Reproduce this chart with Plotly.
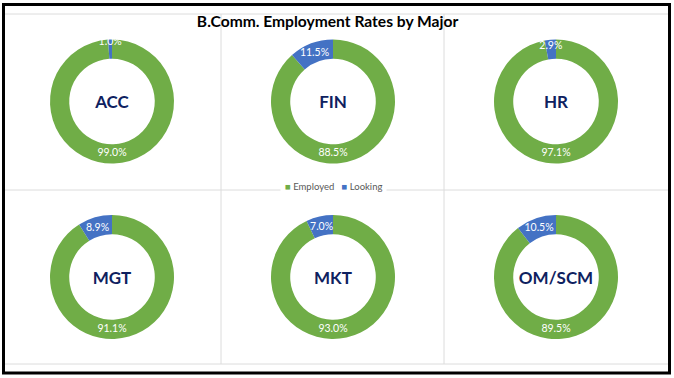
import plotly.graph_objects as go

majors = ["ACC", "FIN", "HR", "MGT", "MKT", "OM/SCM"]
employed = [99.0, 88.5, 97.1, 91.1, 93.0, 89.5]
looking = [1.0, 11.5, 2.9, 8.9, 7.0, 10.5]
status_labels = ["Employed", "Looking"]
title_text = "B.Comm. Employment Rates by Major"

W, H = 674, 378
GREEN = "#70AD47"
BLUE = "#4472C4"
COLORS = [GREEN, BLUE]
NAVY = "#0E2160"
FONT = "Lato"

col_centers = [112, 333, 556]
row_centers = [101.5, 277]
R = 62

fig = go.Figure()
for i, m in enumerate(majors):
    cx = col_centers[i % 3]
    cy = row_centers[i // 3]
    fig.add_trace(go.Pie(
        labels=status_labels,
        values=[employed[i], looking[i]],
        hole=0.69,
        sort=False,
        direction="clockwise",
        rotation=0,
        marker=dict(colors=COLORS, line=dict(width=0)),
        texttemplate="%{value:.1f}%",
        textposition="inside",
        insidetextorientation="horizontal",
        textfont=dict(family=FONT, size=10.5, color="white"),
        domain=dict(x=[(cx - R) / W, (cx + R) / W],
                    y=[1 - (cy + R) / H, 1 - (cy - R) / H]),
        title=dict(text="<b>%s</b>" % m, position="middle center",
                   font=dict(family=FONT, size=17, color=NAVY)),
        showlegend=False,
        hoverinfo="label+value",
    ))

GRID = "#DCDCDC"
shapes = []
# cell grid lines
for x in [221, 444]:
    shapes.append(dict(type="line", xref="paper", yref="paper",
                       x0=x / W, x1=x / W, y0=1 - 14 / H, y1=1 - 364 / H,
                       line=dict(color=GRID, width=1), layer="below"))
for y in [14, 190, 364]:
    shapes.append(dict(type="line", xref="paper", yref="paper",
                       x0=4 / W, x1=668 / W, y0=1 - y / H, y1=1 - y / H,
                       line=dict(color=GRID, width=1), layer="below"))
# outer black border
shapes.append(dict(type="rect", xref="paper", yref="paper",
                   x0=3.5 / W, x1=669.5 / W, y0=1 - 373 / H, y1=1 - 4.5 / H,
                   line=dict(color="black", width=3)))

legend_text = "&nbsp;&nbsp;&nbsp;".join(
    "<span style='color:%s'>■</span>&nbsp;%s" % (c, lab)
    for c, lab in zip(COLORS, status_labels))

fig.update_layout(
    width=W, height=H,
    margin=dict(l=0, r=0, t=0, b=0),
    paper_bgcolor="white",
    plot_bgcolor="white",
    title=dict(text="<b>%s</b>" % title_text, x=0.486, xanchor="center",
               y=1 - 22 / H, yanchor="middle",
               font=dict(family=FONT, size=15.6, color="black")),
    annotations=[dict(text=legend_text, xref="paper", yref="paper",
                      x=333.5 / W, y=1 - 186 / H, xanchor="center", yanchor="middle",
                      showarrow=False, bgcolor="white", borderpad=4,
                      font=dict(family=FONT, size=9.5, color="#595959"))],
    shapes=shapes,
    uniformtext=dict(minsize=10, mode="show"),
)

fig.write_html("out.html", post_script="document.body.style.margin='0';",
               config={"displayModeBar": False})
